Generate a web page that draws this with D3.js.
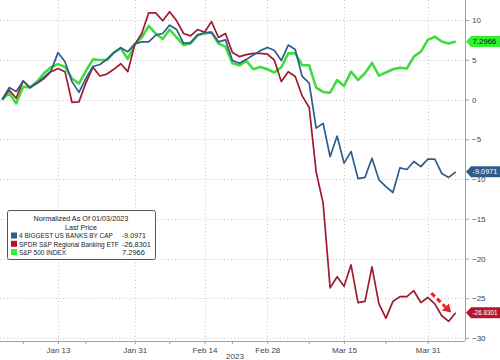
<!DOCTYPE html>
<html><head><meta charset="utf-8">
<script src="https://cdn.jsdelivr.net/npm/d3@7"></script>
<style>
html,body{margin:0;padding:0;background:#fff;}
svg{display:block;font-family:"Liberation Sans",Arial,sans-serif;}
</style></head>
<body><svg id="chart" width="500" height="360"></svg>
<script>
const dates = [
 "2023-01-03","2023-01-04","2023-01-05","2023-01-06","2023-01-09","2023-01-10","2023-01-11","2023-01-12","2023-01-13",
 "2023-01-17","2023-01-18","2023-01-19","2023-01-20","2023-01-23","2023-01-24","2023-01-25","2023-01-26","2023-01-27",
 "2023-01-30","2023-01-31","2023-02-01","2023-02-02","2023-02-03","2023-02-06","2023-02-07","2023-02-08","2023-02-09",
 "2023-02-10","2023-02-13","2023-02-14","2023-02-15","2023-02-16","2023-02-17","2023-02-21","2023-02-22","2023-02-23",
 "2023-02-24","2023-02-27","2023-02-28","2023-03-01","2023-03-02","2023-03-03","2023-03-06","2023-03-07","2023-03-08",
 "2023-03-09","2023-03-10","2023-03-13","2023-03-14","2023-03-15","2023-03-16","2023-03-17","2023-03-20","2023-03-21",
 "2023-03-22","2023-03-23","2023-03-24","2023-03-27","2023-03-28","2023-03-29","2023-03-30","2023-03-31","2023-04-03",
 "2023-04-04","2023-04-05","2023-04-06"];

const bigBanks = [0,1.5,1.0,2.3,1.5,2.1,2.8,3.6,5.9,4.75,2.25,0.9,2.65,4.15,4.4,5.05,5.9,6.5,6.0,7.0,
 7.25,7.25,8.1,8.3,9.35,8.8,7.05,7.15,8.1,8.4,8.45,7.25,7.5,4.9,4.55,5.05,5.6,6.15,6.55,6.2,
 4.9,6.85,6.3,2.9,2.05,-3.6,-3.0,-7.2,-4.6,-8.0,-6.55,-9.95,-9.8,-7.4,-10.1,-10.95,-11.7,-8.6,-8.8,-7.8,
 -8.45,-7.5,-7.5,-9.3,-9.8,-9.0971];
const regional = [0,1.2,0.15,2.35,1.5,2.05,2.65,3.5,3.9,3.5,-0.35,-0.3,2.1,4.05,2.95,3.2,3.8,4.5,3.5,6.9,
 8.3,10.9,10.9,9.9,11.05,9.9,8.3,8.0,8.8,8.45,9.8,7.8,8.3,5.9,5.4,5.65,5.8,5.8,5.7,4.97,
 2.25,3.5,2.9,0.45,-1.0,-9.1,-13.05,-23.7,-22.3,-23.5,-20.8,-25.55,-25.4,-21.05,-25.7,-27.5,-25.4,-24.8,-24.8,-24.05,
 -25.55,-24.9,-25.7,-27.2,-27.9,-26.8301];
const spx = [0,0.8,-0.5,1.6,1.5,2.25,3.3,4.05,4.45,4.1,2.65,2.0,3.6,5.05,4.97,4.97,5.9,6.45,5.1,7.0,
 7.8,9.25,8.3,7.6,8.8,7.8,6.85,7.05,8.1,8.3,8.45,7.05,6.65,4.55,4.3,4.85,3.8,4.1,3.8,3.4,
 4.05,5.8,5.8,4.3,4.3,1.5,0.95,0.85,2.45,1.7,3.5,2.45,3.3,4.6,3.0,3.4,3.8,4.0,3.9,5.4,
 6.0,7.5,7.9,7.3,7.05,7.2966];

const seriesNames = ["4 BIGGEST US BANKS BY CAP","SPDR S&P Regional Banking ETF","S&P 500 INDEX"];
const seriesLast = ["-9.0971","-26.8301","7.2966"];
const seriesColors = ["#2e5d8c","#9e1a2e","#3fdc3f"];
const tagColors = ["#2e5d8c","#b3172d","#33f033"];
const tagText = ["#fff","#fff","#111"];
const majorTickDates = ["2023-01-13","2023-01-31","2023-02-14","2023-02-28","2023-03-15","2023-03-31"];
const majorTickLabels = ["Jan 13","Jan 31","Feb 14","Feb 28","Mar 15","Mar 31"];
const minorTickDates = ["2023-01-06","2023-01-20","2023-02-07","2023-02-21","2023-03-08","2023-03-23"];
const yTicks = [10,5,0,-5,-10,-15,-20,-25,-30];
const legendTitle = ["Normalized As Of 01/03/2023","Last Price"];
const yearLabel = "2023";
// annotation arrow (data space: index, value)
const arrowFrom = [61.5, -24.35], arrowTo = [64.35, -26.8];

const svg = d3.select("#chart");
const axisX = 465, axisY = 341;
const x = d3.scalePoint().domain(dates).range([2.2, 455.7]);
const xi = d3.scaleLinear().domain([0, dates.length-1]).range([2.2, 455.7]);
const y = d3.scaleLinear().domain([-30, 10]).range([338, 20]);

// helper: text squeezed horizontally to a target width
function fitText(parent, tx, ty, str, width, opts) {
  const g = parent.append("g").attr("transform", `translate(${tx},${ty})`);
  const t = g.append("text").attr("x",0).attr("y",0).attr("font-size",opts.size||8)
    .attr("fill",opts.fill||"#222").text(str);
  const w = t.node().getComputedTextLength();
  const s = Math.min(1.15, width / w);
  let dx = 0;
  if (opts.anchor === "middle") dx = -w*s/2;
  g.attr("transform", `translate(${tx+dx},${ty}) scale(${s},1)`);
  return g;
}

// gridlines
const grid = svg.append("g").attr("stroke","#c4c4c4").attr("stroke-width",1).attr("stroke-dasharray","1,2.5");
grid.selectAll("line.h").data(yTicks).join("line")
  .attr("x1",0).attr("x2",axisX).attr("y1",d=>Math.round(y(d))+0.5).attr("y2",d=>Math.round(y(d))+0.5);
grid.selectAll("line.v").data(majorTickDates).join("line")
  .attr("y1",0).attr("y2",axisY).attr("x1",d=>Math.round(x(d))+0.5).attr("x2",d=>Math.round(x(d))+0.5);

// bottom axis
const xAxis = d3.axisBottom(x).tickValues(majorTickDates).tickFormat((d,i)=>majorTickLabels[i]).tickSize(3).tickPadding(3);
const gx = svg.append("g").attr("transform",`translate(0,${axisY})`).call(xAxis);
gx.select(".domain").attr("stroke","#9aa3ad").attr("d",`M0,0.5H${axisX}`);
gx.selectAll(".tick line").attr("stroke","#9aa3ad");
gx.selectAll(".tick text").attr("fill","#444").attr("font-size",8).attr("font-family","Liberation Sans, Arial, sans-serif");
gx.selectAll("line.minor").data(minorTickDates).join("line").attr("class","minor")
  .attr("x1",d=>x(d)).attr("x2",d=>x(d)).attr("y1",0).attr("y2",3).attr("stroke","#9aa3ad");
svg.append("text").attr("x",235).attr("y",359).attr("text-anchor","middle").attr("font-size",8).attr("fill","#444").text(yearLabel);

// right axis
const yAxis = d3.axisRight(y).tickValues(yTicks).tickSize(4).tickPadding(3);
const gy = svg.append("g").attr("transform",`translate(${axisX},0)`).call(yAxis);
gy.select(".domain").attr("stroke","#9aa3ad").attr("d",`M0.5,0V${axisY}`);
gy.selectAll(".tick line").attr("stroke","#9aa3ad");
gy.selectAll(".tick text").attr("fill","#444").attr("font-size",8).attr("font-family","Liberation Sans, Arial, sans-serif");

// lines
const allSeries = [bigBanks, regional, spx];
const line = d3.line().x((d,i)=>x(dates[i])).y(d=>y(d)).curve(d3.curveLinear);
const widths = [1.7,1.7,2.6];
[2,1,0].forEach(k=>{
  svg.append("path").datum(allSeries[k]).attr("d",line).attr("fill","none")
    .attr("stroke",seriesColors[k]).attr("stroke-width",widths[k]).attr("stroke-linejoin","round");
});

// value tags
const tagTextLen = [25,25,24];
allSeries.forEach((s,k)=>{
  const yv = y(s[s.length-1]);
  const g = svg.append("g");
  g.append("path").attr("d",`M${axisX+1},${yv}L${axisX+6},${yv-5.5}H500V${yv+5.5}H${axisX+6}Z`).attr("fill",tagColors[k]);
  fitText(g, 472.5, yv+2.6, seriesLast[k], tagTextLen[k], {size:7.5, fill:tagText[k]});
});

// annotation arrow
const ax1 = xi(arrowFrom[0]), ay1 = y(arrowFrom[1]), ax2 = xi(arrowTo[0]), ay2 = y(arrowTo[1]);
const ang = Math.atan2(ay2-ay1, ax2-ax1);
const hl = 8;
const bx = ax2 - hl*Math.cos(ang), by = ay2 - hl*Math.sin(ang);
svg.append("line").attr("x1",ax1).attr("y1",ay1).attr("x2",bx).attr("y2",by)
  .attr("stroke","#e8242b").attr("stroke-width",3).attr("stroke-dasharray","5,3");
const px = -Math.sin(ang), py = Math.cos(ang);
svg.append("path").attr("d",`M${ax2},${ay2}L${bx+px*5},${by+py*5}L${bx-px*5},${by-py*5}Z`).attr("fill","#e8242b");

// legend
const titleLen = [95,32];
const nameLen = [94,100,47];
const valLen = [24,29,23];
const lg = svg.append("g");
lg.append("rect").attr("x",7.5).attr("y",210.5).attr("width",148).attr("height",49).attr("rx",2)
  .attr("fill","#fff").attr("stroke","#555");
legendTitle.forEach((t,i)=>{
  fitText(lg, 81, 221.3+i*8.3, t, titleLen[i], {size:7, fill:"#222", anchor:"middle"});
});
seriesNames.forEach((n,k)=>{
  const yy = 238.3 + k*8.3;
  lg.append("rect").attr("x",11).attr("y",yy-5.8).attr("width",6).attr("height",6).attr("fill",tagColors[k]);
  fitText(lg, 19, yy, n, nameLen[k], {size:7, fill:"#222"});
  fitText(lg, 122, yy, seriesLast[k], valLen[k], {size:7, fill:"#222"});
});
</script></body></html>
